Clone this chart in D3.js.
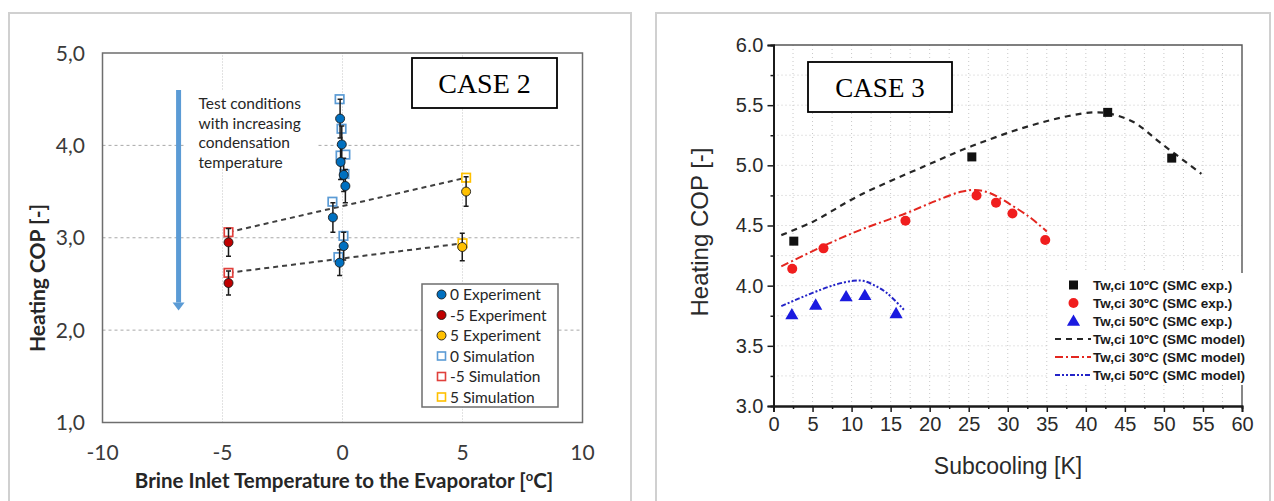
<!DOCTYPE html>
<html lang="en">
<head>
<meta charset="UTF-8">
<script src="https://d3js.org/d3.v7.min.js"></script>
<title>Heating COP - Case 2 / Case 3</title>
<style>
  body { margin: 0; background: #fff; }
</style>
</head>
<body>
<svg id="chart" width="1274" height="501"></svg>
<script>
// ---------------- CASE 2 data ----------------
var xTicksL = [-10, -5, 0, 5, 10];
var yTicksL = [1, 2, 3, 4, 5];
var yTickLabelsL = ["1,0", "2,0", "3,0", "4,0", "5,0"];

var exp0X   = [-0.10, -0.03, -0.08, 0.05, 0.12, -0.40, 0.05, -0.12];
var exp0Y   = [4.29, 4.01, 3.82, 3.68, 3.56, 3.22, 2.91, 2.73];
var exp0Err = [0.21, 0.20, 0.19, 0.18, 0.18, 0.16, 0.15, 0.14];

var expM5X   = [-4.75, -4.75];
var expM5Y   = [2.95, 2.51];
var expM5Err = [0.15, 0.13];

var exp5X   = [5.15, 4.99];
var exp5Y   = [3.50, 2.90];
var exp5Err = [0.16, 0.15];

var sim0X  = [-0.12, -0.04, -0.08, 0.12, 0.08, -0.42, 0.04, -0.17];
var sim0Y  = [4.50, 4.18, 3.89, 3.90, 3.69, 3.39, 3.02, 2.79];
var simM5X = [-4.75, -4.75];
var simM5Y = [3.06, 2.62];
var sim5X  = [5.15, 5.00];
var sim5Y  = [3.65, 2.94];

var trendHighX = [-4.75, 5.15], trendHighY = [3.06, 3.65];
var trendLowX  = [-4.75, 5.00], trendLowY  = [2.62, 2.94];

var legendL = ["0 Experiment", "-5 Experiment", "5 Experiment", "0 Simulation", "-5 Simulation", "5 Simulation"];

// ---------------- CASE 3 data ----------------
var xTicksR = d3.range(0, 61, 5);
var yTicksR = [3.0, 3.5, 4.0, 4.5, 5.0, 5.5, 6.0];

var exp10X = [2.6, 25.4, 42.8, 51.0];
var exp10Y = [4.37, 5.07, 5.44, 5.06];
var exp30X = [2.4, 6.4, 16.9, 26.0, 28.5, 30.6, 34.8];
var exp30Y = [4.14, 4.31, 4.54, 4.75, 4.69, 4.60, 4.38];
var exp50X = [2.35, 5.4, 9.3, 11.7, 15.7];
var exp50Y = [3.76, 3.84, 3.91, 3.92, 3.77];

var model10X = [1, 5, 11, 19.6, 25.4, 32.4, 37.8, 41.0, 43.0, 46.1, 49.7, 54.8];
var model10Y = [4.42, 4.53, 4.75, 5.0, 5.16, 5.32, 5.41, 5.44, 5.43, 5.36, 5.18, 4.93];
var model30X = [1, 6.4, 11, 16.9, 21, 24, 25.8, 27.7, 30.7, 33, 35];
var model30Y = [4.16, 4.33, 4.46, 4.60, 4.71, 4.78, 4.795, 4.77, 4.66, 4.56, 4.45];
var model50X = [1, 5, 8, 10.2, 11.5, 13, 14.5, 16.7];
var model50Y = [3.83, 3.94, 4.01, 4.04, 4.04, 4.00, 3.94, 3.80];

var legendR = ["Tw,ci 10ºC (SMC exp.)", "Tw,ci 30ºC (SMC exp.)", "Tw,ci 50ºC (SMC exp.)",
               "Tw,ci 10ºC (SMC model)", "Tw,ci 30ºC (SMC model)", "Tw,ci 50ºC (SMC model)"];

var svg = d3.select("#chart");
function zip(xs, ys, es) { return xs.map(function (x, i) { return { x: x, y: ys[i], e: es ? es[i] : 0 }; }); }

// =============== LEFT PANEL (CASE 2) ===============
var L = svg.append("g");
var calibri = "Lato, 'Open Sans', sans-serif";

L.append("rect").attr("x", 9).attr("y", 13).attr("width", 622).attr("height", 500)
  .attr("fill", "none").attr("stroke", "#d0d0d0").attr("stroke-width", 2);

var xL = d3.scaleLinear().domain([-10, 10]).range([102.5, 582.5]);
var yL = d3.scaleLinear().domain([1, 5]).range([422.5, 53]);

// grid
L.selectAll(".hg").data([2, 3, 4]).enter().append("line")
  .attr("x1", xL(-10)).attr("x2", xL(10)).attr("y1", d => yL(d)).attr("y2", d => yL(d))
  .attr("stroke", "#a8a8a8").attr("stroke-width", 1).attr("stroke-dasharray", "3,3");
L.selectAll(".vg").data([-5, 0, 5]).enter().append("line")
  .attr("x1", d => xL(d)).attr("x2", d => xL(d)).attr("y1", yL(1)).attr("y2", yL(5))
  .attr("stroke", "#c4c4c4").attr("stroke-width", 1).attr("stroke-dasharray", "1,2");

// annotation: white block, arrow and text
L.append("rect").attr("x", xL(-6.6)).attr("y", yL(4.6)).attr("width", xL(-1.05) - xL(-6.6)).attr("height", yL(3.75) - yL(4.6))
  .attr("fill", "#fff");
L.append("line").attr("x1", xL(-6.83)).attr("x2", xL(-6.83)).attr("y1", yL(4.6)).attr("y2", yL(2.3))
  .attr("stroke", "#5b9bd5").attr("stroke-width", 5);
L.append("path")
  .attr("d", "M" + (xL(-6.83) - 6) + "," + yL(2.3) + "L" + (xL(-6.83) + 6) + "," + yL(2.3) + "L" + xL(-6.83) + "," + (yL(2.3) + 8) + "Z")
  .attr("fill", "#5b9bd5");
var annot = ["Test conditions", "with increasing", "condensation", "temperature"];
L.append("text").attr("font-family", calibri).attr("font-size", 15.5).attr("fill", "#262626")
  .selectAll("tspan").data(annot).enter().append("tspan")
  .attr("x", xL(-6.0)).attr("y", (d, i) => 109 + i * 19.7).text(d => d);

// frame
L.append("rect").attr("x", xL(-10)).attr("y", yL(5)).attr("width", xL(10) - xL(-10)).attr("height", yL(1) - yL(5))
  .attr("fill", "none").attr("stroke", "#6e6e6e").attr("stroke-width", 1.5);

// tick labels
L.selectAll(".yl").data(yTicksL).enter().append("text")
  .attr("x", 85).attr("y", d => yL(d) + 7.5).attr("text-anchor", "end")
  .attr("font-family", calibri).attr("font-size", 21).attr("fill", "#3a3a3a")
  .text((d, i) => yTickLabelsL[i]);
L.selectAll(".xl").data(xTicksL).enter().append("text")
  .attr("x", d => xL(d)).attr("y", 460).attr("text-anchor", "middle")
  .attr("font-family", calibri).attr("font-size", 21).attr("fill", "#3a3a3a")
  .text(d => d);

// axis titles
L.append("text").attr("transform", "translate(45,278) rotate(-90)").attr("text-anchor", "middle")
  .attr("font-family", calibri).attr("font-weight", "bold").attr("font-size", 21).attr("fill", "#262626")
  .text("Heating COP [-]");
var xt = L.append("text").attr("x", 344).attr("y", 488).attr("text-anchor", "middle")
  .attr("font-family", calibri).attr("font-weight", "bold").attr("font-size", 20.5).attr("fill", "#262626");
xt.append("tspan").text("Brine Inlet Temperature to the Evaporator [");
xt.append("tspan").attr("font-size", 13).attr("dy", -7).text("o");
xt.append("tspan").attr("dy", 7).text("C]");

// trend lines
var lineL = d3.line().x(d => xL(d.x)).y(d => yL(d.y));
[zip(trendHighX, trendHighY), zip(trendLowX, trendLowY)].forEach(function (pts) {
  L.append("path").datum(pts).attr("d", lineL).attr("fill", "none")
    .attr("stroke", "#404040").attr("stroke-width", 2).attr("stroke-dasharray", "5,4");
});

// simulation squares
var sq = 8.5;
[[zip(sim0X, sim0Y), "#5b9bd5"], [zip(simM5X, simM5Y), "#e0403c"], [zip(sim5X, sim5Y), "#ffc000"]].forEach(function (s) {
  L.selectAll(null).data(s[0]).enter().append("rect")
    .attr("x", d => xL(d.x) - sq / 2).attr("y", d => yL(d.y) - sq / 2).attr("width", sq).attr("height", sq)
    .attr("fill", "#fff").attr("stroke", s[1]).attr("stroke-width", 1.7);
});

// experiments with error bars
var expSets = [[zip(exp0X, exp0Y, exp0Err), "#0070c0"], [zip(expM5X, expM5Y, expM5Err), "#c00000"], [zip(exp5X, exp5Y, exp5Err), "#ffc000"]];
expSets.forEach(function (s) {
  var g = L.append("g");
  g.selectAll(null).data(s[0]).enter().append("path")
    .attr("d", function (d) {
      var x = xL(d.x), y1 = yL(d.y + d.e), y2 = yL(d.y - d.e);
      return "M" + x + "," + y1 + "V" + y2 + "M" + (x - 2.5) + "," + y1 + "H" + (x + 2.5) + "M" + (x - 2.5) + "," + y2 + "H" + (x + 2.5);
    })
    .attr("stroke", "#1a1a1a").attr("stroke-width", 1.5).attr("fill", "none");
});
expSets.forEach(function (s) {
  L.selectAll(null).data(s[0]).enter().append("circle")
    .attr("cx", d => xL(d.x)).attr("cy", d => yL(d.y)).attr("r", 4.5)
    .attr("fill", s[1]).attr("stroke", "#1a1a1a").attr("stroke-width", 0.9);
});

// CASE 2 label box
L.append("rect").attr("x", 412).attr("y", 58).attr("width", 145).attr("height", 50)
  .attr("fill", "#fff").attr("stroke", "#000").attr("stroke-width", 1.8);
L.append("text").attr("x", 484.5).attr("y", 93).attr("text-anchor", "middle")
  .attr("font-family", "'Liberation Serif', 'Times New Roman', serif").attr("font-size", 28).text("CASE 2");

// legend
var lgL = L.append("g");
lgL.append("rect").attr("x", 422).attr("y", 284).attr("width", 136).attr("height", 123)
  .attr("fill", "#fff").attr("stroke", "#6e6e6e").attr("stroke-width", 1.5);
var legMark = [["c", "#0070c0"], ["c", "#c00000"], ["c", "#ffc000"], ["s", "#5b9bd5"], ["s", "#e0403c"], ["s", "#ffc000"]];
legendL.forEach(function (t, i) {
  var cy = 294.5 + i * 20.5;
  if (legMark[i][0] === "c") {
    lgL.append("circle").attr("cx", 441.5).attr("cy", cy).attr("r", 4.5)
      .attr("fill", legMark[i][1]).attr("stroke", "#1a1a1a").attr("stroke-width", 0.9);
  } else {
    lgL.append("rect").attr("x", 441.5 - 4).attr("y", cy - 4).attr("width", 8).attr("height", 8)
      .attr("fill", "#fff").attr("stroke", legMark[i][1]).attr("stroke-width", 1.6);
  }
  lgL.append("text").attr("x", 450).attr("y", cy + 5.5).attr("font-family", calibri).attr("font-size", 15.5)
    .attr("fill", "#262626").text(t);
});

// =============== RIGHT PANEL (CASE 3) ===============
var R = svg.append("g");
var arial = "'Liberation Sans', Arial, sans-serif";

R.append("rect").attr("x", 656).attr("y", 13).attr("width", 614).attr("height", 500)
  .attr("fill", "none").attr("stroke", "#d0d0d0").attr("stroke-width", 2);

var xR = d3.scaleLinear().domain([0, 60]).range([773.5, 1242]);
var yR = d3.scaleLinear().domain([3, 6]).range([406, 45]);

// dotted grid at every minor tick
R.selectAll(".gx").data(d3.range(2.5, 60, 2.5)).enter().append("line")
  .attr("x1", d => xR(d)).attr("x2", d => xR(d)).attr("y1", yR(3)).attr("y2", yR(6))
  .attr("stroke", "#c8c8c8").attr("stroke-width", 1).attr("stroke-dasharray", "1,3");
R.selectAll(".gy").data(d3.range(3.25, 6, 0.25)).enter().append("line")
  .attr("x1", xR(0)).attr("x2", xR(60)).attr("y1", d => yR(d)).attr("y2", d => yR(d))
  .attr("stroke", "#c8c8c8").attr("stroke-width", 1).attr("stroke-dasharray", "1,3");

// top / right borders
R.append("path").attr("d", "M" + xR(0) + "," + yR(6) + "H" + xR(60) + "V" + yR(3))
  .attr("fill", "none").attr("stroke", "#555").attr("stroke-width", 1.4);

// axes
var axB = d3.axisBottom(xR).tickValues(xTicksR).tickSize(6).tickPadding(5).tickFormat(d3.format("d"));
var axBm = d3.axisBottom(xR).tickValues(d3.range(2.5, 60, 5)).tickSize(3).tickFormat("");
var axLf = d3.axisLeft(yR).tickValues(yTicksR).tickSize(6).tickPadding(4).tickFormat(d3.format(".1f"));
var axLm = d3.axisLeft(yR).tickValues(d3.range(3.25, 6, 0.5)).tickSize(3).tickFormat("");
[[axB, "translate(0," + yR(3) + ")"], [axBm, "translate(0," + yR(3) + ")"],
 [axLf, "translate(" + xR(0) + ",0)"], [axLm, "translate(" + xR(0) + ",0)"]].forEach(function (a) {
  var g = R.append("g").attr("transform", a[1]).call(a[0]);
  g.select(".domain").attr("stroke", "#1a1a1a").attr("stroke-width", 1.8);
  g.selectAll(".tick line").attr("stroke", "#1a1a1a").attr("stroke-width", 1.5);
  g.selectAll(".tick text").attr("font-family", arial).attr("font-size", 20).attr("fill", "#2a2a2a");
});

R.append("text").attr("transform", "translate(708,232) rotate(-90)").attr("text-anchor", "middle")
  .attr("font-family", arial).attr("font-size", 24).attr("fill", "#2a2a2a").text("Heating COP [-]");
R.append("text").attr("x", 1008).attr("y", 474).attr("text-anchor", "middle")
  .attr("font-family", arial).attr("font-size", 23).attr("fill", "#2a2a2a").text("Subcooling [K]");

// model curves
var lineR = d3.line().x(d => xR(d.x)).y(d => yR(d.y)).curve(d3.curveCatmullRom);
var models = [
  [zip(model10X, model10Y), "#262626", "6,5", 2.2],
  [zip(model30X, model30Y), "#e3261f", "8,3,2,3", 2],
  [zip(model50X, model50Y), "#2424c8", "5,2,2,2,2,2", 2]
];
models.forEach(function (m) {
  R.append("path").datum(m[0]).attr("d", lineR).attr("fill", "none")
    .attr("stroke", m[1]).attr("stroke-dasharray", m[2]).attr("stroke-width", m[3]);
});

// experimental points
var tri = d3.symbol().type(d3.symbolTriangle).size(75);
R.selectAll(null).data(zip(exp10X, exp10Y)).enter().append("rect")
  .attr("x", d => xR(d.x) - 4.5).attr("y", d => yR(d.y) - 4.5).attr("width", 9).attr("height", 9).attr("fill", "#111");
R.selectAll(null).data(zip(exp30X, exp30Y)).enter().append("circle")
  .attr("cx", d => xR(d.x)).attr("cy", d => yR(d.y)).attr("r", 5).attr("fill", "#f01e1e");
R.selectAll(null).data(zip(exp50X, exp50Y)).enter().append("path")
  .attr("d", tri).attr("transform", d => "translate(" + xR(d.x) + "," + (yR(d.y) + 1) + ")").attr("fill", "#1a1ae0");

// CASE 3 label box
R.append("rect").attr("x", 808).attr("y", 62).attr("width", 144).attr("height", 50)
  .attr("fill", "#fff").attr("stroke", "#000").attr("stroke-width", 1.8);
R.append("text").attr("x", 880).attr("y", 97).attr("text-anchor", "middle")
  .attr("font-family", "'Liberation Serif', 'Times New Roman', serif").attr("font-size", 27).text("CASE 3");

// legend
var lgR = R.append("g");
lgR.append("rect").attr("x", 1048).attr("y", 273).attr("width", 205).attr("height", 112).attr("fill", "#fff");
legendR.forEach(function (t, i) {
  var cy = 285 + i * 18;
  if (i === 0) lgR.append("rect").attr("x", 1069).attr("y", cy - 4.5).attr("width", 9).attr("height", 9).attr("fill", "#111");
  if (i === 1) lgR.append("circle").attr("cx", 1073.5).attr("cy", cy).attr("r", 5).attr("fill", "#f01e1e");
  if (i === 2) lgR.append("path").attr("d", tri).attr("transform", "translate(1073.5," + (cy + 1) + ")").attr("fill", "#1a1ae0");
  if (i >= 3) {
    var m = models[i - 3];
    lgR.append("line").attr("x1", 1055).attr("x2", 1091).attr("y1", cy).attr("y2", cy)
      .attr("stroke", m[1]).attr("stroke-dasharray", m[2]).attr("stroke-width", m[3]);
  }
  lgR.append("text").attr("x", 1093).attr("y", cy + 5).attr("font-family", arial).attr("font-weight", "bold")
    .attr("font-size", 13.5).attr("fill", "#1a1a1a").text(t);
});
</script>
</body>
</html>
